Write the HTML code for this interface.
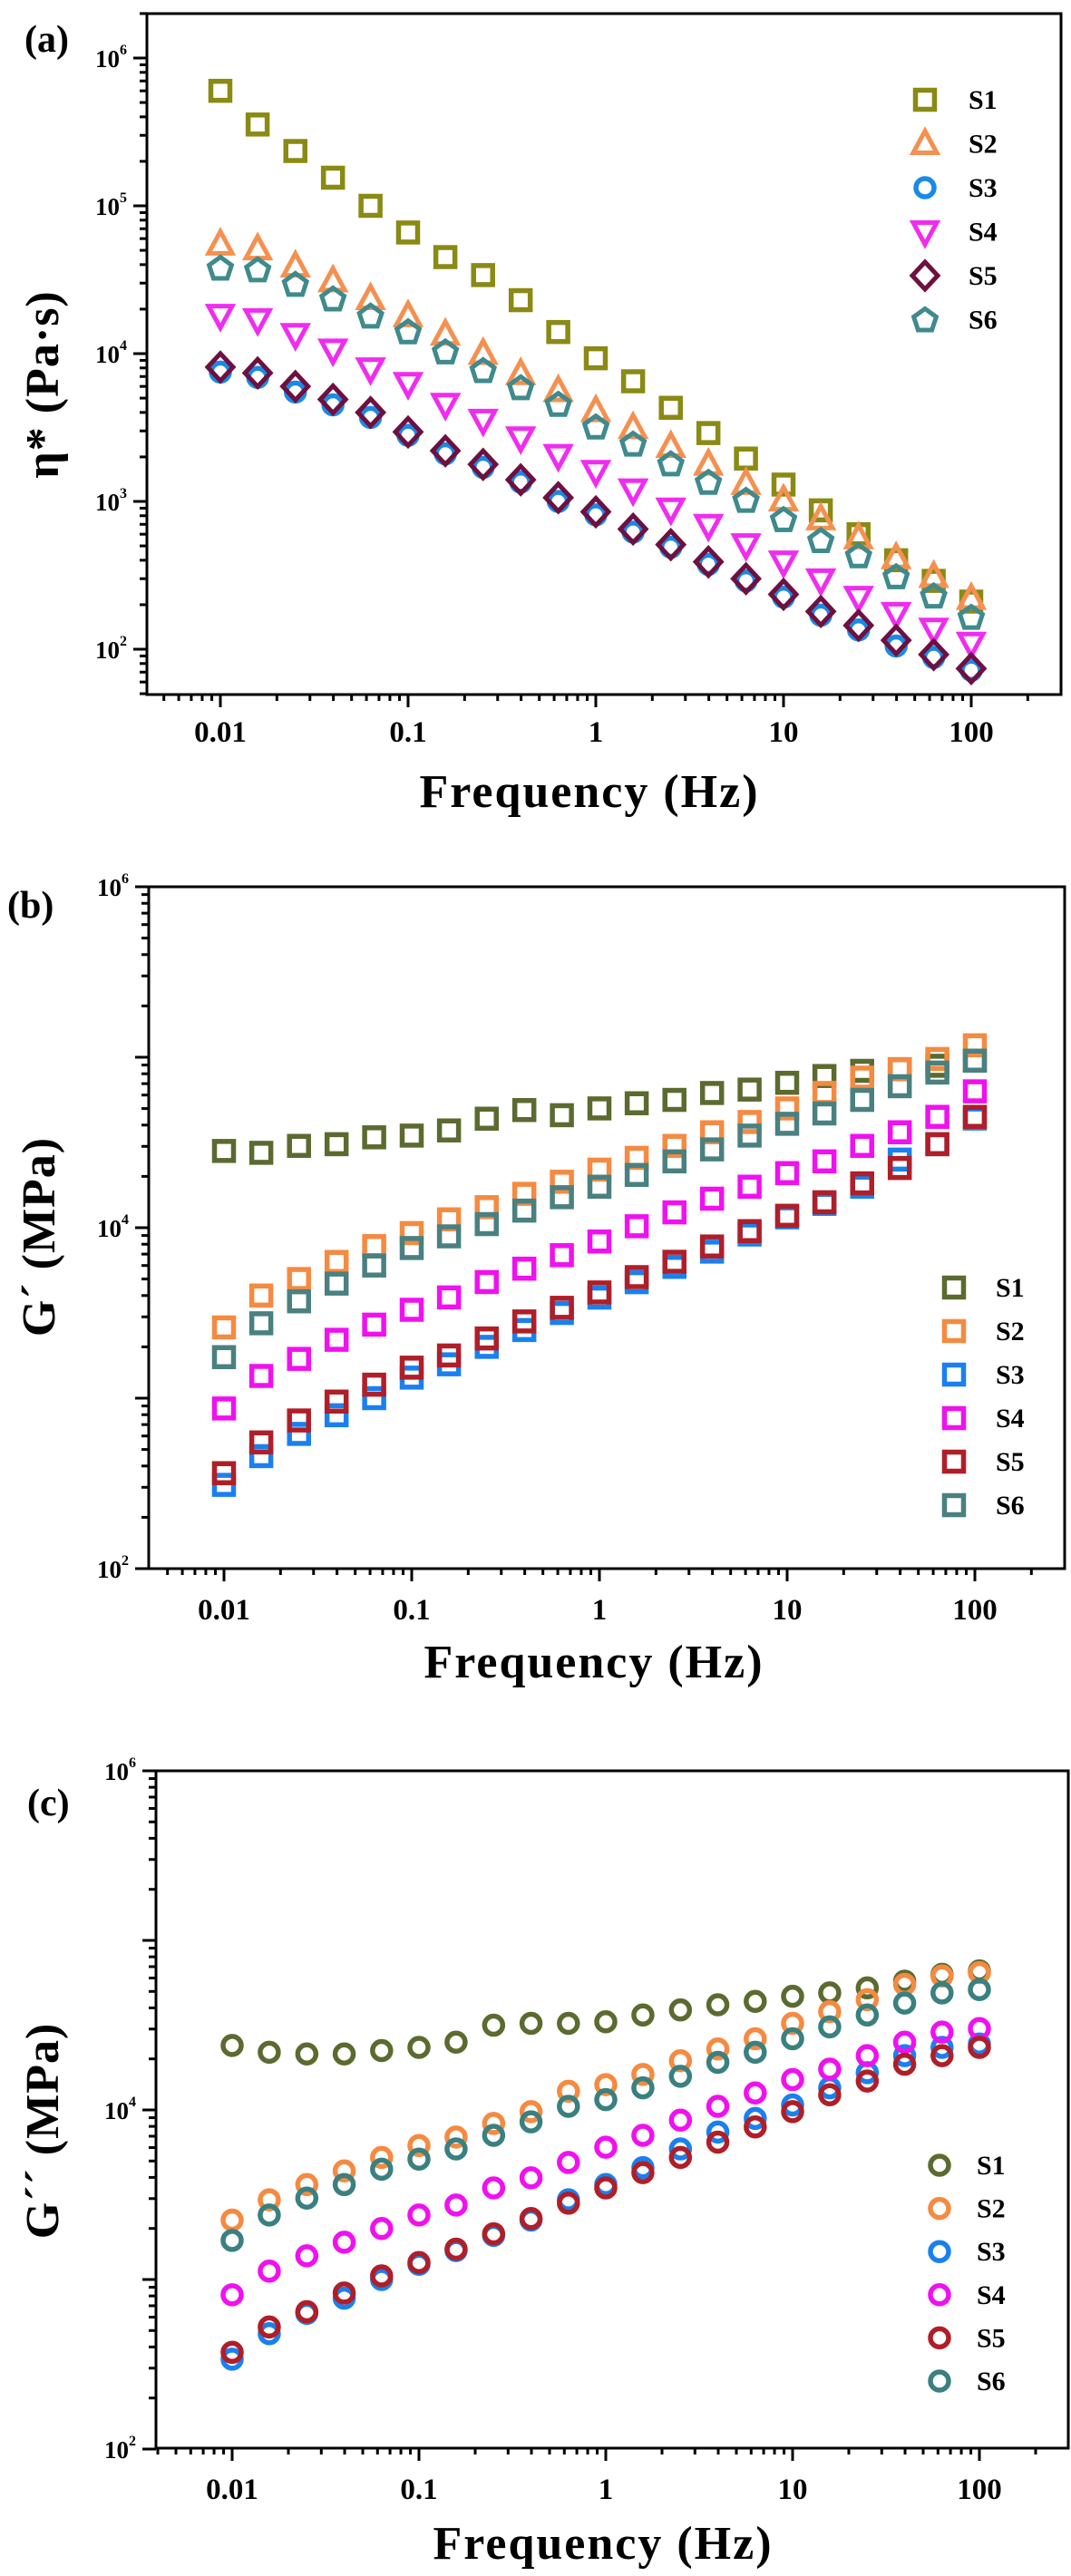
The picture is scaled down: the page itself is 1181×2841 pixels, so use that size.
<!DOCTYPE html>
<html><head><meta charset="utf-8">
<style>
html,body{margin:0;padding:0;background:#fff;}
svg{display:block;font-family:"Liberation Serif",serif;font-weight:bold;}
</style></head>
<body>
<svg id="fig" width="1181" height="2841" viewBox="0 0 1181 2841" xmlns="http://www.w3.org/2000/svg"></svg>
<script>
// ---------- shared data ----------
const freqs = [0.01,0.0158,0.0251,0.0398,0.0631,0.1,0.158,0.251,0.398,0.631,1,1.58,2.51,3.98,6.31,10,15.8,25.1,39.8,63.1,100];
const seriesNames = ["S1","S2","S3","S4","S5","S6"];
const xTickValues = [0.01,0.1,1,10,100];
const xTickLabels = ["0.01","0.1","1","10","100"];

// ---------- panel (a): complex viscosity ----------
const etaS1 = [600000,355000,235000,155000,100000,66000,45000,34000,23000,14000,9300,6500,4300,2900,1950,1300,870,600,400,290,210];
const etaS2 = [55000,51000,39000,31000,23500,18000,13500,10000,7300,5600,4100,3150,2350,1780,1320,1020,760,565,415,310,220];
const etaS3 = [7500,6900,5500,4500,3700,2800,2100,1700,1350,1000,810,620,490,375,290,225,170,135,105,88,72];
const etaS4 = [18200,17000,13500,10600,7900,6300,4550,3550,2700,2050,1600,1200,890,690,510,390,295,225,175,137,110];
const etaS5 = [8100,7400,6000,4900,4000,2950,2200,1780,1400,1060,850,650,510,390,300,235,180,145,115,92,74];
const etaS6 = [38000,37000,29500,23500,18000,14100,10300,7700,5900,4550,3200,2450,1800,1350,1020,755,545,430,310,230,165];
const etaTickExps = [2,3,4,5,6];

// ---------- panel (b): storage modulus ----------
const gpS1 = [28200,27500,30200,30900,33900,34700,37200,43600,49000,45700,50100,53700,56200,61700,64600,70800,77600,83200,85100,89100,95500];
const gpS2 = [2600,4000,5000,6300,7800,9300,11200,13200,15800,18600,21900,25700,30200,36300,41700,50100,61700,75900,85100,97700,117500];
const gpS3 = [310,457,617,794,1000,1320,1580,2000,2510,3160,3890,4790,5890,7240,9120,11500,13800,17400,25100,30900,43700];
const gpS4 = [870,1350,1700,2200,2700,3300,3900,4800,5750,6900,8300,10200,12300,14800,17400,20900,24500,30200,36300,44700,63100];
const gpS5 = [363,550,740,955,1200,1510,1780,2240,2820,3390,4170,5130,6310,7760,9550,11750,14100,18200,22400,30900,44700];
const gpS6 = [1740,2750,3700,4700,6000,7600,8900,10500,12600,15100,17400,20400,24500,28800,34700,40700,46800,56200,67600,81300,95500];

// ---------- panel (c): loss modulus ----------
const gppS1 = [24000,21900,21400,21400,22400,23400,25100,31600,32400,32400,33100,36300,38900,41700,43700,46800,49000,52500,57500,63100,66100];
const gppS2 = [2240,2950,3630,4370,5250,6170,6920,8320,9770,12900,14100,16200,19500,22900,26300,32400,38000,44700,55000,61700,64600];
const gppS3 = [339,479,631,776,1000,1230,1480,1820,2240,2950,3630,4570,5890,7410,8910,10700,13500,16600,20900,23400,24500];
const gppS4 = [813,1120,1380,1660,2000,2400,2750,3470,3980,4900,6030,7080,8710,10500,12600,15100,17400,20900,25100,28800,30200];
const gppS5 = [372,525,646,832,1050,1260,1510,1860,2290,2820,3470,4270,5250,6460,7940,9770,12300,14800,18600,20900,23400];
const gppS6 = [1700,2400,3020,3630,4470,5130,5890,7080,8510,10500,11500,13500,15800,19100,21900,26300,30900,36300,42700,49000,51300];
const modTickExps = [2,4,6];

const NS = "http://www.w3.org/2000/svg";
const svg = document.getElementById("fig");
function mk(tag, attrs, parent){
  const e = document.createElementNS(NS, tag);
  for (const k in attrs) e.setAttribute(k, attrs[k]);
  (parent||svg).appendChild(e);
  return e;
}

function marker(g, shape, cx, cy, color, sz){
  const sw = 5.5;
  let e;
  const r = sz/2;
  if (shape==="square") e = mk("rect",{x:cx-r+2.5,y:cy-r+2.5,width:sz-5,height:sz-5,fill:"none",stroke:color,"stroke-width":sw},g);
  else if (shape==="circle") e = mk("circle",{cx:cx,cy:cy,r:r-3,fill:"none",stroke:color,"stroke-width":sw},g);
  else if (shape==="tri") e = mk("polygon",{points:`${cx},${cy-r-1} ${cx+r},${cy+r-3} ${cx-r},${cy+r-3}`,fill:"none",stroke:color,"stroke-width":sw-0.5},g);
  else if (shape==="dtri") e = mk("polygon",{points:`${cx},${cy+r+1} ${cx+r},${cy-r+3} ${cx-r},${cy-r+3}`,fill:"none",stroke:color,"stroke-width":sw-0.5},g);
  else if (shape==="diamond") e = mk("polygon",{points:`${cx},${cy-r-2} ${cx+r+1},${cy} ${cx},${cy+r+2} ${cx-r-1},${cy}`,fill:"none",stroke:color,"stroke-width":sw-0.5},g);
  else if (shape==="pent"){
    let p=[];for(let i=0;i<5;i++){const a=-Math.PI/2+i*2*Math.PI/5;p.push((cx+(r)*Math.cos(a)).toFixed(1)+","+(cy+(r)*Math.sin(a)+1).toFixed(1));}
    e = mk("polygon",{points:p.join(" "),fill:"none",stroke:color,"stroke-width":sw-0.5},g);
  }
  return e;
}

function panel(cfg){
  const g = mk("g",{});
  
  
  const L=cfg.left,R=cfg.right,T=cfg.top,B=cfg.bottom;
  const xs = v => cfg.x0px + (Math.log10(v)+2)*cfg.xDec;
  const ys = v => cfg.y6px + (6-Math.log10(v))*cfg.yDec;
  const fr = mk("rect",{x:L,y:T,width:R-L,height:B-T,fill:"none",stroke:"#000","stroke-width":3},g);
  
  
  const xt = mk("g",{},g);
  
  
  for (let d=-3; d<=2; d++){
    for (let m=1;m<10;m++){
      const v=m*Math.pow(10,d), px=xs(v);
      if (px<L+1||px>R-1) continue;
      mk("line",{x1:px,y1:B,x2:px,y2:B+(m===1?14:7),stroke:"#000","stroke-width":3},xt);
    }
  }
  xTickValues.forEach((v,i)=>{
    const t = mk("text",{x:xs(v),y:cfg.xLabelY,"text-anchor":"middle","font-size":33},xt);
    
    
    t.textContent = xTickLabels[i];
  });
  const yt = mk("g",{},g);
  
  
  for (let d=1; d<=6; d++){
    for (let m=1;m<10;m++){
      const v=m*Math.pow(10,d), py=ys(v);
      if (py<T-1||py>B+1) continue;
      mk("line",{x1:L,y1:py,x2:L-(m===1?15:8),y2:py,stroke:"#000","stroke-width":3},yt);
    }
  }
  cfg.yTicks.forEach(e=>{
    const t = mk("text",{x:L-22,y:ys(Math.pow(10,e))+10,"text-anchor":"end","font-size":27},yt);
    
    
    t.textContent = "10";
    const s = mk("tspan",{"font-size":16,dy:-14},t);
    s.textContent = String(e);
  });
  const xtit = mk("text",{x:cfg.xTitleX,y:cfg.xTitleY,"text-anchor":"middle","font-size":52,"letter-spacing":2},g);
  
  
  xtit.textContent = "Frequency (Hz)";
  const ytit = mk("text",{x:0,y:0,"text-anchor":"middle","font-size":52,"letter-spacing":1,transform:`translate(${cfg.yTitleX},${cfg.yTitleY}) rotate(-90)`},g);
  
  
  ytit.textContent = cfg.yTitle;
  const pl = mk("text",{x:cfg.labX,y:cfg.labY,"font-size":42},g);
  
  
  pl.textContent = cfg.label;
  cfg.series.forEach((vals,si)=>{
    const sg = mk("g",{},g);
    
    
    vals.forEach((v,i)=>{
      const m = marker(sg, cfg.shapes[si], xs(freqs[i]), ys(v), cfg.colors[si], 26);
      
      
    });
  });
  const lg = mk("g",{},g);
  
  
  seriesNames.forEach((n,i)=>{
    const y = cfg.legY0 + i*cfg.legDy;
    const it = mk("g",{},lg);
    
    
    marker(it, cfg.shapes[i], cfg.legMX, y, cfg.colors[i], 26);
    const t = mk("text",{x:cfg.legTX,y:y+10,"font-size":30},it);
    t.textContent = n;
  });
}

panel({name:"panel-a-viscosity",left:162,right:1170,top:15,bottom:766,
  x0px:243,xDec:207,y6px:64,yDec:163,
  xLabelY:818,xTitleX:650,xTitleY:890,yTitleX:64,yTitleY:424,yTitle:"η* (Pa·s)",
  labX:27,labY:57,label:"(a)",yTicks:etaTickExps,
  series:[etaS1,etaS2,etaS3,etaS4,etaS5,etaS6],
  shapes:["square","tri","circle","dtri","diamond","pent"],
  colors:["#8a8a14","#f59050","#1a8ae6","#f02cf0","#6e1040","#3f8a8c"],
  legY0:110,legDy:48.5,legMX:1020,legTX:1068});

panel({name:"panel-b-storage-modulus",left:164,right:1174,top:978,bottom:1730,
  x0px:247,xDec:207,y6px:978,yDec:188,
  xLabelY:1786,xTitleX:655,xTitleY:1850,yTitleX:60,yTitleY:1364,yTitle:"G´ (MPa)",
  labX:8,labY:1012,label:"(b)",yTicks:modTickExps,
  series:[gpS1,gpS2,gpS3,gpS4,gpS5,gpS6],
  shapes:["square","square","square","square","square","square"],
  colors:["#5b6b30","#f58a40","#1a80f0","#f010f0","#b01e28","#4a8080"],
  legY0:1420,legDy:48,legMX:1052,legTX:1098});

panel({name:"panel-c-loss-modulus",left:172,right:1178,top:1953,bottom:2700,
  x0px:256,xDec:206,y6px:1953,yDec:187,
  xLabelY:2756,xTitleX:665,xTitleY:2822,yTitleX:64,yTitleY:2350,yTitle:"G´´ (MPa)",
  labX:30,labY:2002,label:"(c)",yTicks:modTickExps,
  series:[gppS1,gppS2,gppS3,gppS4,gppS5,gppS6],
  shapes:["circle","circle","circle","circle","circle","circle"],
  colors:["#5b6b30","#f58a40","#1a80f0","#f010f0","#b01e28","#3a8080"],
  legY0:2388,legDy:47.6,legMX:1036,legTX:1077});
</script>
</body></html>
